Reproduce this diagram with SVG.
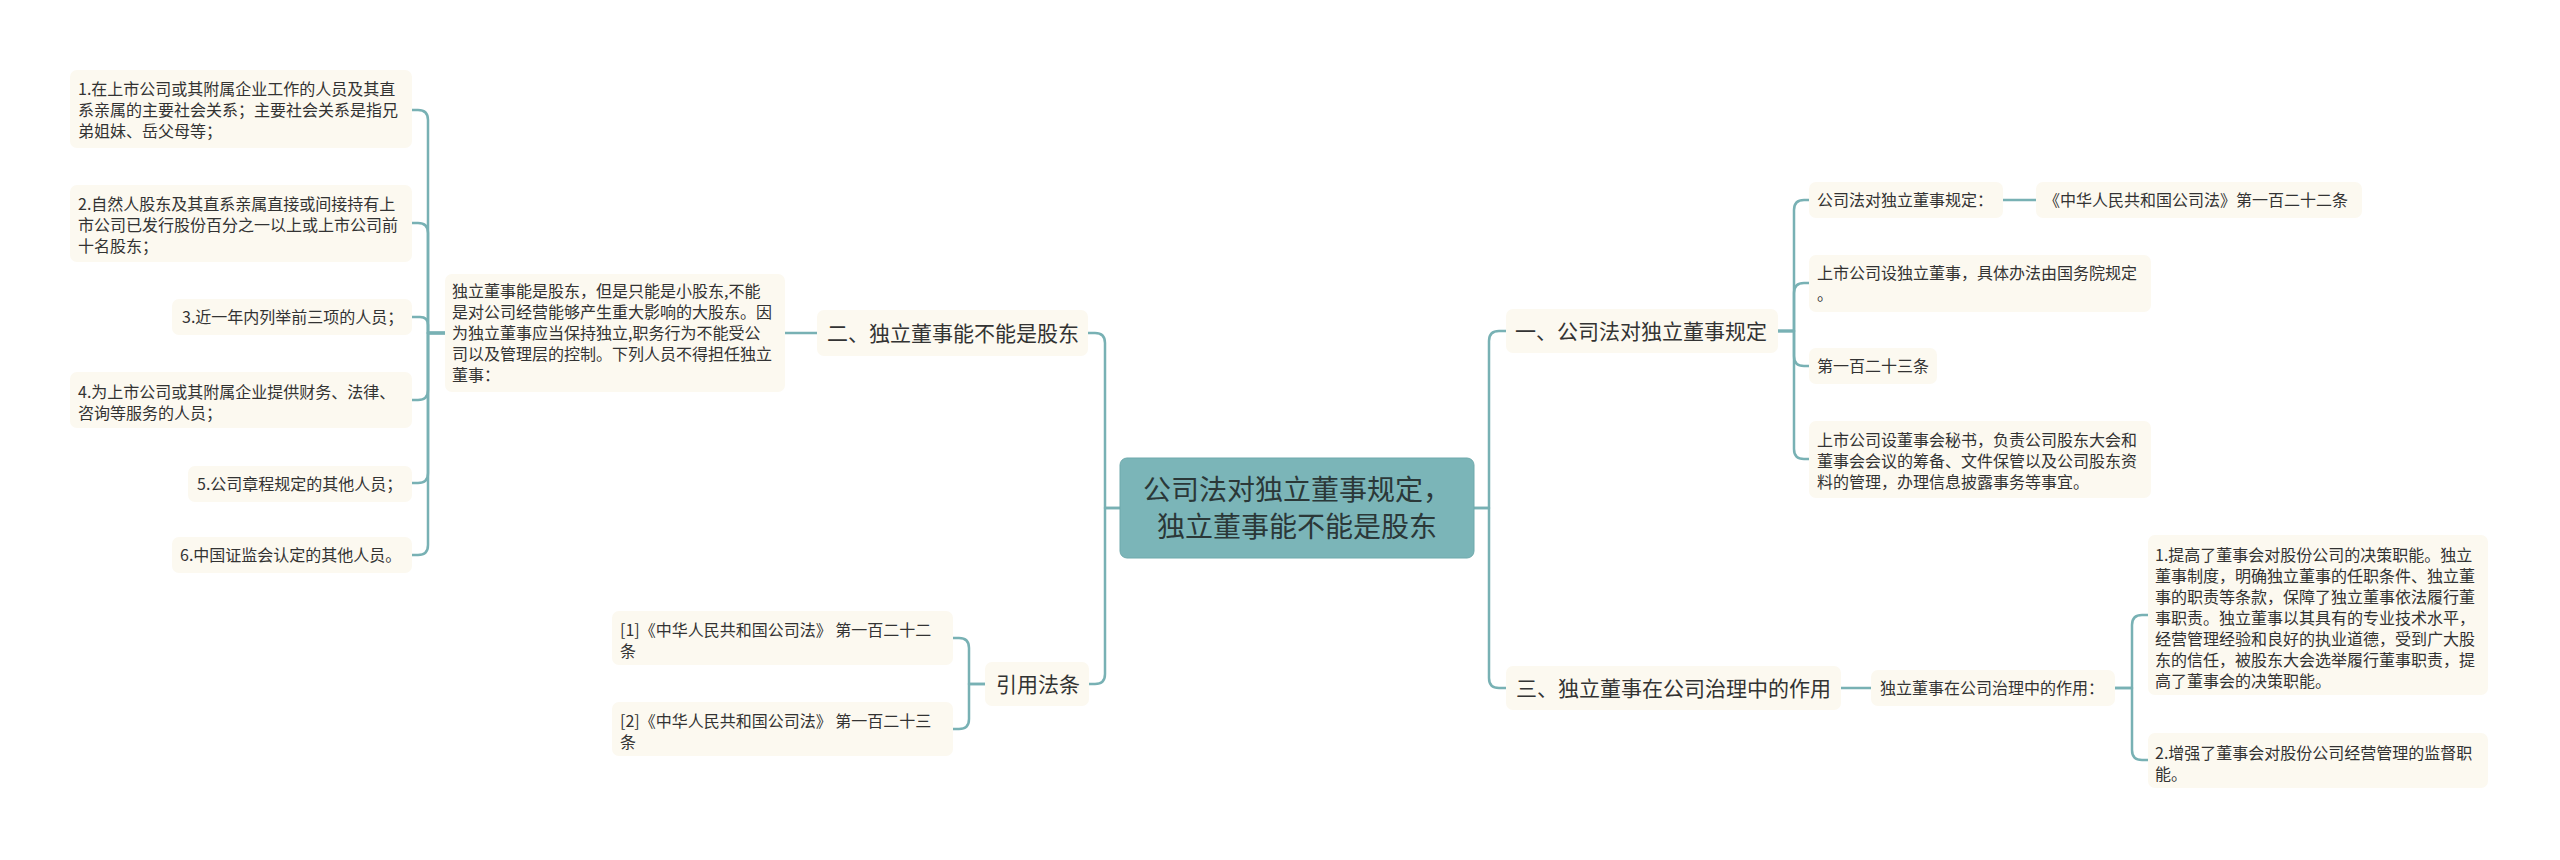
<svg xmlns="http://www.w3.org/2000/svg" width="2560" height="860" viewBox="0 0 2560 860">
<style>
.bg{fill:#ffffff}
.box{fill:#fcf9f0}
.root{fill:#7bb5b8;stroke:#6fa9ac;stroke-width:1}
.c{fill:none;stroke:#78b1b4;stroke-width:2.5;stroke-linecap:round;stroke-linejoin:round}
text{font-family:"Noto Sans CJK SC","Noto Sans",sans-serif;fill:#333333}
.t16{font-size:16px}
.t21{font-size:21px}
.t28{font-size:28px;fill:#2b3838}
</style>
<rect class="bg" x="0" y="0" width="2560" height="860"/>
<g id="connectors">
<path class="c" d="M1120,508 H1105 V343 Q1105,333 1095,333 H1088"/>
<path class="c" d="M1120,508 H1105 V674 Q1105,684 1095,684 H1089"/>
<path class="c" d="M1474,508 H1489 V341 Q1489,331 1499,331 H1506"/>
<path class="c" d="M1474,508 H1489 V678 Q1489,688 1499,688 H1506"/>
<path class="c" d="M817,333 H785"/>
<path class="c" d="M445,333 H428 V120 Q428,110 418,110 H412"/>
<path class="c" d="M445,333 H428 V233 Q428,223 418,223 H412"/>
<path class="c" d="M445,333 H428 V325 Q428,317 420,317 H412"/>
<path class="c" d="M445,333 H428 V390 Q428,400 418,400 H412"/>
<path class="c" d="M445,333 H428 V473 Q428,483 418,483 H412"/>
<path class="c" d="M445,333 H428 V545 Q428,555 418,555 H412"/>
<path class="c" d="M985,684 H969 V648 Q969,638 959,638 H953"/>
<path class="c" d="M985,684 H969 V719 Q969,729 959,729 H953"/>
<path class="c" d="M1778,331 H1794 V210 Q1794,200 1804,200 H1809"/>
<path class="c" d="M1778,331 H1794 V293 Q1794,283 1804,283 H1809"/>
<path class="c" d="M1778,331 H1794 V356 Q1794,366 1804,366 H1809"/>
<path class="c" d="M1778,331 H1794 V449 Q1794,459 1804,459 H1809"/>
<path class="c" d="M2003,200 H2036"/>
<path class="c" d="M1841,688 H1871"/>
<path class="c" d="M2115,688 H2132 V625 Q2132,615 2142,615 H2148"/>
<path class="c" d="M2115,688 H2132 V750 Q2132,760 2142,760 H2148"/>
</g>
<g id="root">
<rect class="root" x="1120" y="458" width="354" height="100" rx="7"/>
<text class="t28" x="1297" y="500" text-anchor="middle">公司法对独立董事规定，</text>
<text class="t28" x="1297" y="537" text-anchor="middle">独立董事能不能是股东</text>
</g>
<g id="n2">
<rect class="box" x="817" y="310" width="271" height="46" rx="7"/>
<text class="t21" x="827" y="341">二、独立董事能不能是股东</text>
</g>
<g id="nQ">
<rect class="box" x="985" y="662" width="104" height="44" rx="7"/>
<text class="t21" x="996" y="692">引用法条</text>
</g>
<g id="n1">
<rect class="box" x="1506" y="309" width="272" height="44" rx="7"/>
<text class="t21" x="1515" y="339">一、公司法对独立董事规定</text>
</g>
<g id="n3">
<rect class="box" x="1506" y="666" width="335" height="44" rx="7"/>
<text class="t21" x="1516" y="696">三、独立董事在公司治理中的作用</text>
</g>
<g id="p">
<rect class="box" x="445" y="274" width="340" height="118" rx="7"/>
<text class="t16" x="452" y="297">独立董事能是股东，但是只能是小股东,不能</text>
<text class="t16" x="452" y="318">是对公司经营能够产生重大影响的大股东。因</text>
<text class="t16" x="452" y="339">为独立董事应当保持独立,职务行为不能受公</text>
<text class="t16" x="452" y="360">司以及管理层的控制。下列人员不得担任独立</text>
<text class="t16" x="452" y="381">董事：</text>
</g>
<g id="L1">
<rect class="box" x="70" y="70" width="342" height="78" rx="7"/>
<text class="t16" x="78" y="95">1.在上市公司或其附属企业工作的人员及其直</text>
<text class="t16" x="78" y="116">系亲属的主要社会关系；主要社会关系是指兄</text>
<text class="t16" x="78" y="137">弟姐妹、岳父母等；</text>
</g>
<g id="L2">
<rect class="box" x="70" y="185" width="342" height="77" rx="7"/>
<text class="t16" x="78" y="210">2.自然人股东及其直系亲属直接或间接持有上</text>
<text class="t16" x="78" y="231">市公司已发行股份百分之一以上或上市公司前</text>
<text class="t16" x="78" y="252">十名股东；</text>
</g>
<g id="L3">
<rect class="box" x="172" y="299" width="240" height="36" rx="7"/>
<text class="t16" x="182" y="323">3.近一年内列举前三项的人员；</text>
</g>
<g id="L4">
<rect class="box" x="70" y="372" width="342" height="56" rx="7"/>
<text class="t16" x="78" y="398">4.为上市公司或其附属企业提供财务、法律、</text>
<text class="t16" x="78" y="419">咨询等服务的人员；</text>
</g>
<g id="L5">
<rect class="box" x="188" y="466" width="224" height="36" rx="7"/>
<text class="t16" x="197" y="490">5.公司章程规定的其他人员；</text>
</g>
<g id="L6">
<rect class="box" x="172" y="537" width="240" height="36" rx="7"/>
<text class="t16" x="180" y="561">6.中国证监会认定的其他人员。</text>
</g>
<g id="Q1">
<rect class="box" x="612" y="611" width="341" height="54" rx="7"/>
<text class="t16" x="620" y="636">[1]《中华人民共和国公司法》 第一百二十二</text>
<text class="t16" x="620" y="657">条</text>
</g>
<g id="Q2">
<rect class="box" x="612" y="702" width="341" height="54" rx="7"/>
<text class="t16" x="620" y="727">[2]《中华人民共和国公司法》 第一百二十三</text>
<text class="t16" x="620" y="748">条</text>
</g>
<g id="a">
<rect class="box" x="1809" y="182" width="194" height="36" rx="7"/>
<text class="t16" x="1817" y="206">公司法对独立董事规定：</text>
</g>
<g id="b">
<rect class="box" x="2036" y="182" width="326" height="36" rx="7"/>
<text class="t16" x="2044" y="206">《中华人民共和国公司法》第一百二十二条</text>
</g>
<g id="c">
<rect class="box" x="1809" y="255" width="342" height="57" rx="7"/>
<text class="t16" x="1817" y="279">上市公司设独立董事，具体办法由国务院规定</text>
<text class="t16" x="1817" y="300">。</text>
</g>
<g id="d">
<rect class="box" x="1809" y="348" width="128" height="36" rx="7"/>
<text class="t16" x="1817" y="372">第一百二十三条</text>
</g>
<g id="e">
<rect class="box" x="1809" y="421" width="342" height="77" rx="7"/>
<text class="t16" x="1817" y="446">上市公司设董事会秘书，负责公司股东大会和</text>
<text class="t16" x="1817" y="467">董事会会议的筹备、文件保管以及公司股东资</text>
<text class="t16" x="1817" y="488">料的管理，办理信息披露事务等事宜。</text>
</g>
<g id="r0">
<rect class="box" x="1871" y="670" width="244" height="36" rx="7"/>
<text class="t16" x="1880" y="694">独立董事在公司治理中的作用：</text>
</g>
<g id="R1">
<rect class="box" x="2148" y="535" width="340" height="160" rx="7"/>
<text class="t16" x="2155" y="561">1.提高了董事会对股份公司的决策职能。独立</text>
<text class="t16" x="2155" y="582">董事制度，明确独立董事的任职条件、独立董</text>
<text class="t16" x="2155" y="603">事的职责等条款，保障了独立董事依法履行董</text>
<text class="t16" x="2155" y="624">事职责。独立董事以其具有的专业技术水平，</text>
<text class="t16" x="2155" y="645">经营管理经验和良好的执业道德，受到广大股</text>
<text class="t16" x="2155" y="666">东的信任，被股东大会选举履行董事职责，提</text>
<text class="t16" x="2155" y="687">高了董事会的决策职能。</text>
</g>
<g id="R2">
<rect class="box" x="2148" y="733" width="340" height="55" rx="7"/>
<text class="t16" x="2155" y="759">2.增强了董事会对股份公司经营管理的监督职</text>
<text class="t16" x="2155" y="780">能。</text>
</g>
</svg>
